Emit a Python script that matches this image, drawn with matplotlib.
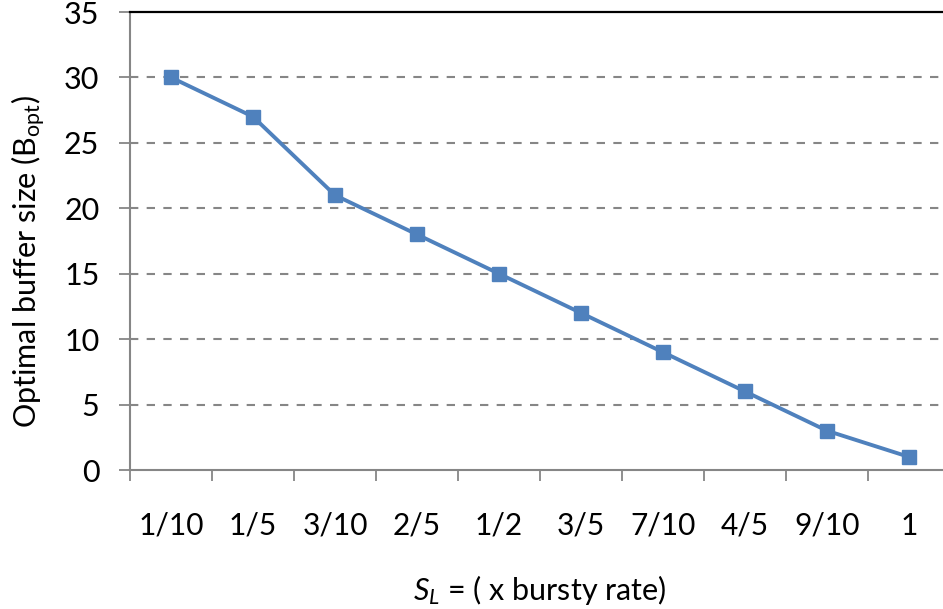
import matplotlib
matplotlib.use("Agg")
import matplotlib.pyplot as plt

plt.rcParams['font.family'] = ['Lato', 'DejaVu Sans']
plt.rcParams['mathtext.fontset'] = 'custom'
plt.rcParams['mathtext.rm'] = 'Lato'
plt.rcParams['mathtext.it'] = 'Lato:italic'

categories = ["1/10", "1/5", "3/10", "2/5", "1/2", "3/5", "7/10", "4/5", "9/10", "1"]
b_opt = [30, 27, 21, 18, 15, 12, 9, 6, 3, 1]
y_ticks = [0, 5, 10, 15, 20, 25, 30, 35]

blue = "#4F81BD"
grey = "#868686"
fs = 22

fig = plt.figure(figsize=(9.43, 6.09), dpi=100)
ax = fig.add_axes([130 / 943, 139 / 609, 820 / 943, 458 / 609])

x = list(range(len(categories)))
ax.plot(x, b_opt, color=blue, lw=2.8, marker="s", ms=10, zorder=3)

ax.set_xlim(-0.5, len(categories) - 0.5)
ax.set_ylim(0, 35)

ax.set_yticks(y_ticks)
ax.set_yticklabels([str(v) for v in y_ticks], fontsize=fs)
for v in y_ticks[1:-1]:
   ax.axhline(v, color=grey, lw=1.5, ls=(0, (4, 4)), zorder=1)

# category ticks sit between the points, labels under the points
ax.set_xticks([i - 0.5 for i in range(len(categories) + 1)])
ax.set_xticklabels([])
ax.set_xticks(x, minor=True)
ax.set_xticklabels(categories, minor=True, fontsize=21.5)
ax.tick_params(axis="x", which="major", direction="out", length=8, width=1.3, color=grey)
ax.tick_params(axis="x", which="minor", length=0, pad=30)
ax.tick_params(axis="y", direction="out", length=8, width=1.3, color=grey, pad=14)

for side in ["left", "bottom"]:
   ax.spines[side].set_color(grey)
   ax.spines[side].set_linewidth(1.5)
ax.spines["top"].set_color("black")
ax.spines["top"].set_linewidth(1.6)
ax.spines["right"].set_visible(False)

ax.set_ylabel("Optimal buffer size (B$_{\\mathrm{opt}}$)", fontsize=fs)
ax.yaxis.set_label_coords(-0.1, 0.455)
ax.set_xlabel("$S_L$ = ( x bursty rate)", fontsize=fs, labelpad=24)

fig.savefig("out.png", dpi=100)
